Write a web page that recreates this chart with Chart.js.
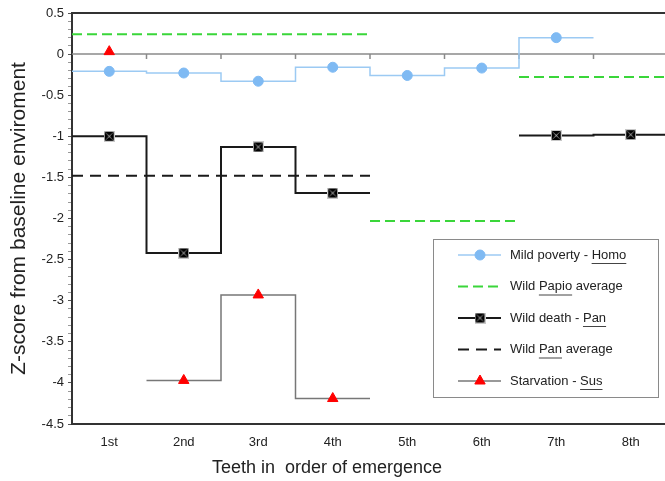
<!DOCTYPE html>
<html>
<head>
<meta charset="utf-8">
<script src="https://cdn.jsdelivr.net/npm/chart.js@4.4.0/dist/chart.umd.min.js"></script>
<style>
  html, body { margin: 0; padding: 0; overflow: hidden; background: #fff; }
</style>
</head>
<body>
<canvas id="teeth-chart" width="675" height="481"></canvas>
<script>
// data
const categories = ['1st', '2nd', '3rd', '4th', '5th', '6th', '7th', '8th'];
const homoPoverty = [-0.21, -0.23, -0.33, -0.16, -0.26, -0.17, 0.20, null];
const papioAverage = [0.24, 0.24, 0.24, 0.24, -2.03, -2.03, -0.28, -0.28];
const panDeath = [-1.0, -2.42, -1.13, -1.69, null, null, -0.99, -0.98];
const panAverage = [-1.48, -1.48, -1.48, -1.48, null, null, null, null];
const susStarvation = [0.03, -3.97, -2.93, -4.19, null, null, null, null];
const yMin = -4.5, yMax = 0.5;
const xTitle = 'Teeth in  order of emergence';

const FONT = '"Liberation Sans", Arial, sans-serif';
const HOMO_BLUE = '#7fbaf3';
const PAPIO_GREEN = '#3ad63a';
const SUS_RED = '#ff0000';

// step line: each tooth spans one unit on x, marker sits in the middle
function steps(values, breakOnChange) {
  const pts = [];
  values.forEach((v, i) => {
    if (v === null) return;
    const prev = i > 0 ? values[i - 1] : null;
    if (pts.length && (prev === null || (breakOnChange && prev !== v))) pts.push({ x: i, y: null });
    pts.push({ x: i, y: v }, { x: i + 1, y: v });
  });
  return pts;
}
function mids(values) {
  return values.map((v, i) => ({ x: i + 0.5, y: v })).filter(p => p.y !== null);
}

// the 1st Sus value is only a marker, no line in the original
const susLine = susStarvation.map((v, i) => (i === 0 ? null : v));

function panMarker() {
  const c = document.createElement('canvas');
  c.width = 11; c.height = 11;
  const g = c.getContext('2d');
  g.fillStyle = '#c8c8c8';
  g.fillRect(0, 0, 11, 11);
  g.fillStyle = '#000';
  const tri = (a, b, d) => { g.beginPath(); g.moveTo(a[0], a[1]); g.lineTo(b[0], b[1]); g.lineTo(d[0], d[1]); g.closePath(); g.fill(); };
  tri([1, 1], [10, 1], [5.5, 5]);
  tri([1, 10], [10, 10], [5.5, 6]);
  tri([1, 1], [1, 10], [5, 5.5]);
  tri([10, 1], [10, 10], [6, 5.5]);
  return c;
}
const panIcon = panMarker();

const legendRows = [
  { ds: 'homo', parts: [['Mild poverty - ', false], ['Homo', true]] },
  { ds: 'papio', parts: [['Wild ', false], ['Papio', true], [' average', false]] },
  { ds: 'pan', parts: [['Wild death - ', false], ['Pan', true]] },
  { ds: 'panAvg', parts: [['Wild ', false], ['Pan', true], [' average', false]] },
  { ds: 'sus', parts: [['Starvation - ', false], ['Sus', true]] }
];

const frame = {
  id: 'frame',
  beforeDatasetsDraw(chart) {
    const { ctx, chartArea, scales: { x, y } } = chart;
    const y0 = y.getPixelForValue(0);
    ctx.save();
    ctx.strokeStyle = '#8a8a8a';
    ctx.lineWidth = 1.5;
    ctx.beginPath();
    ctx.moveTo(chartArea.left, y0); ctx.lineTo(chartArea.right, y0);
    for (let i = 1; i < categories.length; i++) {
      const px = x.getPixelForValue(i);
      ctx.moveTo(px, y0); ctx.lineTo(px, y0 + 5);
    }
    ctx.stroke();
    ctx.strokeStyle = '#333';
    ctx.lineWidth = 2;
    ctx.beginPath();
    ctx.moveTo(chartArea.left - 1, chartArea.top); ctx.lineTo(chartArea.right, chartArea.top);
    ctx.stroke();
    ctx.restore();
  },
  afterDraw(chart) {
    const ctx = chart.ctx;
    ctx.save();
    // x axis title, sits left of the plot centre in the original
    ctx.fillStyle = '#222';
    ctx.font = '18px ' + FONT;
    ctx.textAlign = 'center';
    ctx.textBaseline = 'middle';
    ctx.fillText(xTitle, 327, 468);
    ctx.textAlign = 'left';

    const bx = 433, by = 239, bw = 225, bh = 158;
    ctx.fillStyle = '#fff';
    ctx.fillRect(bx, by, bw, bh);
    ctx.strokeStyle = '#8a8a8a';
    ctx.lineWidth = 1;
    ctx.strokeRect(bx + 0.5, by + 0.5, bw, bh);
    ctx.font = '13px ' + FONT;
    legendRows.forEach((row, k) => {
      const ry = 255 + k * 31.5;
      const ds = chart.data.datasets.find(d => d.key === row.ds);
      ctx.save();
      ctx.strokeStyle = ds.borderColor;
      ctx.lineWidth = ds.borderWidth;
      ctx.setLineDash(ds.borderDash || []);
      ctx.beginPath();
      ctx.moveTo(458, ry); ctx.lineTo(501, ry);
      ctx.stroke();
      ctx.restore();
      const mk = chart.data.datasets.find(d => d.key === row.ds + 'Pts');
      if (mk) {
        ctx.save();
        ctx.fillStyle = mk.backgroundColor;
        ctx.strokeStyle = mk.borderColor;
        ctx.lineWidth = 1;
        Chart.helpers.drawPoint(ctx, { pointStyle: mk.pointStyle, radius: mk.pointRadius, rotation: 0, borderWidth: 1 }, 480, ry);
        ctx.restore();
      }
      ctx.fillStyle = '#222';
      let tx = 510;
      row.parts.forEach(([txt, under]) => {
        const w = ctx.measureText(txt).width;
        ctx.fillText(txt, tx, ry);
        if (under) {
          ctx.strokeStyle = '#444';
          ctx.lineWidth = 1;
          ctx.beginPath();
          ctx.moveTo(tx, ry + 8.5); ctx.lineTo(tx + w, ry + 8.5);
          ctx.stroke();
        }
        tx += w;
      });
    });
    ctx.restore();
  }
};

new Chart(document.getElementById('teeth-chart'), {
  type: 'line',
  data: {
    datasets: [
      { key: 'homoPts', data: mids(homoPoverty), showLine: false, pointStyle: 'circle', pointRadius: 5,
        backgroundColor: HOMO_BLUE, borderColor: HOMO_BLUE, borderWidth: 1, order: 0 },
      { key: 'panPts', data: mids(panDeath), showLine: false, pointStyle: panIcon, pointRadius: 5,
        backgroundColor: '#000', borderColor: '#000', order: 0 },
      { key: 'susPts', data: mids(susStarvation), showLine: false, pointStyle: 'triangle', pointRadius: 6,
        backgroundColor: SUS_RED, borderColor: SUS_RED, borderWidth: 1, order: 0 },
      { key: 'homo', data: steps(homoPoverty, false), borderColor: '#9ccaf3', borderWidth: 1.5, pointRadius: 0, order: 1 },
      { key: 'papio', data: steps(papioAverage, true), borderColor: PAPIO_GREEN, borderWidth: 2, borderDash: [10, 5], pointRadius: 0, order: 1 },
      { key: 'pan', data: steps(panDeath, false), borderColor: '#1a1a1a', borderWidth: 2, pointRadius: 0, order: 1 },
      { key: 'panAvg', data: steps(panAverage, true), borderColor: '#1a1a1a', borderWidth: 2, borderDash: [11, 7], pointRadius: 0, order: 1 },
      { key: 'sus', data: steps(susLine, false), borderColor: '#777', borderWidth: 1.5, pointRadius: 0, order: 1 }
    ]
  },
  options: {
    responsive: false,
    animation: false,
    devicePixelRatio: 1,
    spanGaps: false,
    layout: { padding: { top: 13, right: 0, bottom: 0, left: 0 } },
    plugins: { legend: { display: false }, tooltip: { enabled: false } },
    scales: {
      x: {
        type: 'linear', min: 0, max: categories.length,
        afterFit: s => { s.height = 57; },
        afterBuildTicks: s => { s.ticks = categories.map((c, i) => ({ value: i + 0.5 })); },
        ticks: { autoSkip: false, maxRotation: 0, padding: 3, color: '#222', font: { family: FONT, size: 13 },
          callback: v => categories[Math.floor(v)] },
        grid: { display: false },
        border: { display: true, color: '#333', width: 2 }
      },
      y: {
        min: yMin, max: yMax,
        afterFit: s => { s.width = 72; },
        afterBuildTicks: s => {
          const t = [];
          for (let k = Math.round(yMin * 10); k <= Math.round(yMax * 10); k++) t.push({ value: k / 10, major: k % 5 === 0 });
          s.ticks = t;
        },
        ticks: { autoSkip: false, padding: 4, color: '#222', font: { family: FONT, size: 13 },
          callback: v => (Math.round(v * 10) % 5 === 0 ? String(Number(v.toFixed(1))) : '') },
        grid: { drawOnChartArea: false, drawTicks: true, tickLength: 4,
          tickColor: c => (c.tick && c.tick.major ? '#555' : '#999') },
        border: { display: true, color: '#333', width: 2 },
        title: { display: true, text: 'Z-score from baseline enviroment', color: '#222',
          font: { family: FONT, size: 21 }, padding: { top: 7, bottom: 0 } }
      }
    }
  },
  plugins: [frame]
});
</script>
</body>
</html>
